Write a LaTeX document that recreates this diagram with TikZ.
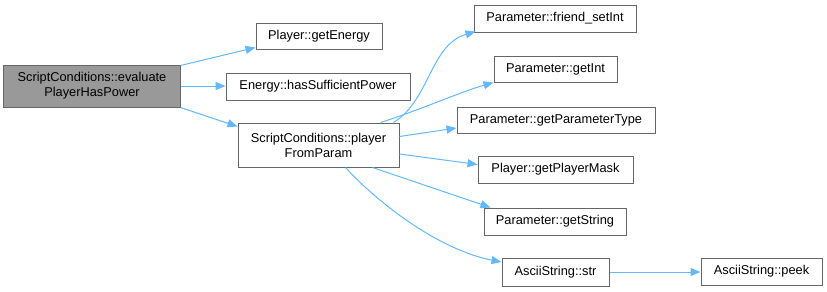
\documentclass[tikz,border=0pt]{standalone}
\usepackage{fontspec}
\setmainfont{Liberation Sans}
\usetikzlibrary{arrows.meta,calc}
\definecolor{edgeblue}{HTML}{63B8FF}
\definecolor{boxline}{HTML}{666666}
\definecolor{mainfill}{HTML}{999999}
\tikzset{
  fn/.style={draw=boxline, line width=1bp, fill=white, rectangle, inner sep=0pt,
    align=center, font=\fontsize{12.8bp}{15bp}\selectfont, text=black},
  mainfn/.style={fn, fill=mainfill},
  edge/.style={draw=edgeblue, line width=1bp,
    -{Triangle[length=10bp,width=8bp]}},
}
\begin{document}
\begin{tikzpicture}[x=1bp,y=-1bp]
\useasboundingbox (0,0) rectangle (827,291);
% caller
\node[mainfn, minimum width=176bp, minimum height=42bp] (main) at (92,86)
  {ScriptConditions::evaluate\\PlayerHasPower};
% direct callees
\node[fn, minimum width=126bp, minimum height=26bp] (energy) at (319,36) {Player::getEnergy};
\node[fn, minimum width=184bp, minimum height=27bp] (power) at (318,86.5) {Energy::hasSufficientPower};
\node[fn, minimum width=161bp, minimum height=44bp] (pfp) at (318.5,145)
  {ScriptConditions::player\\FromParam};
% callees of playerFromParam
\node[fn, minimum width=162bp, minimum height=27bp] (fset) at (555,18.5) {Parameter::friend\_setInt};
\node[fn, minimum width=123bp, minimum height=26bp] (gint) at (555.5,69) {Parameter::getInt};
\node[fn, minimum width=198bp, minimum height=26bp] (gtype) at (556,120) {Parameter::getParameterType};
\node[fn, minimum width=155bp, minimum height=27bp] (gmask) at (555.5,169.5) {Player::getPlayerMask};
\node[fn, minimum width=142bp, minimum height=27bp] (gstr) at (555,221.5) {Parameter::getString};
\node[fn, minimum width=107bp, minimum height=28bp] (astr) at (555.5,272) {AsciiString::str};
\node[fn, minimum width=121bp, minimum height=27bp] (peek) at (761.5,271.5) {AsciiString::peek};
% call edges
\draw[edge] ($(main.north east)+(0,1)$) -- ($(energy.south west)+(0,-2)$);
\draw[edge] (main.east) -- (main.east -| power.west);
\draw[edge] (main.south east) -- ($(pfp.north west)+(0,4)$);
\draw[edge] ($(pfp.north east)+(-6,0)$) .. controls (430,100) and (430,45) .. ($(fset.south west)+(2,-1)$);
\draw[edge] ($(pfp.north east)+(-19,0)$) .. controls (420,110) and (460,92) .. (gint.south west);
\draw[edge] ($(pfp.north east)+(0,14)$) -- ($(gtype.west)+(0,8)$);
\draw[edge] ($(pfp.east)+(0,9)$) -- ($(gmask.west)+(0,-5)$);
\draw[edge] ($(pfp.south east)+(-27,0)$) -- ($(gstr.north west)+(7,0)$);
\draw[edge] ($(pfp.south east)+(-54,0)$) .. controls (380,205) and (440,250) .. ($(astr.west)+(0,-10)$);
\draw[edge] (astr.east) -- (astr.east -| peek.west);
\end{tikzpicture}
\end{document}
